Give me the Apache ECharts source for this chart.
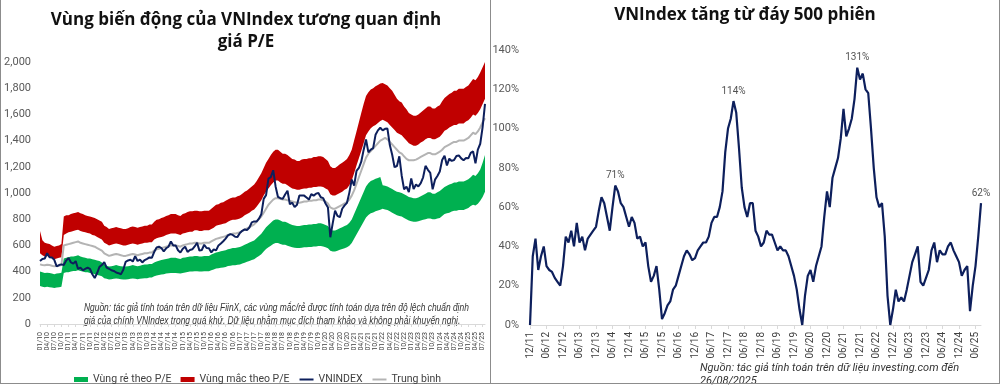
<!DOCTYPE html>
<html><head><meta charset="utf-8">
<script src="https://cdn.jsdelivr.net/npm/echarts@6/dist/echarts.min.js"></script>
<style>html,body{margin:0;padding:0;background:#fff}#c{width:1000px;height:385px}</style>
</head><body><div id="c"></div>
<script>
// ---------- LEFT CHART DATA (monthly, 01/2010 .. 08/2025) ----------
const vnindex = [
481,497,500,540,510,507,490,440,450,455,450,484,
505,470,461,480,420,430,410,420,430,420,380,351,
389,436,450,473,430,422,410,405,393,388,380,414,
475,485,490,477,518,481,492,470,488,497,508,505,
550,585,590,580,555,578,590,630,600,600,563,545,
575,590,550,565,570,592,620,560,565,605,580,579,
546,570,562,600,615,632,652,677,686,680,666,665,
695,711,722,717,737,776,783,782,804,837,955,984,
1110,1121,1174,1050,970,960,955,989,1017,914,926,892,
910,980,980,980,965,950,992,980,995,1000,968,961,
920,890,662,768,865,825,815,880,905,925,1003,1103,
1056,1168,1191,1239,1329,1408,1310,1331,1342,1444,1478,1498,
1478,1490,1492,1366,1292,1197,1206,1280,1132,1028,1049,1007,
1111,1030,1065,1050,1075,1120,1207,1177,1154,1028,1102,1130,
1164,1252,1284,1210,1262,1245,1252,1283,1287,1264,1250,1267,
1265,1306,1317,1226,1332,1376,1503,1680];
const trungBinh = [
455,450,448,452,450,445,440,442,445,450,600,605,
610,615,620,625,630,620,615,610,605,600,595,590,
580,570,560,540,530,520,525,530,535,530,525,520,
520,525,530,535,530,525,530,535,540,540,545,545,
560,570,575,580,585,590,595,600,600,600,595,590,
600,605,610,615,615,620,620,615,615,620,620,620,
630,640,650,655,660,665,670,680,685,690,690,695,
700,710,720,730,740,750,760,780,800,820,850,880,
910,930,950,960,960,955,950,950,945,940,935,930,
925,925,930,935,935,940,940,945,945,950,950,945,
935,920,890,880,880,890,900,910,920,930,950,980,
1020,1070,1120,1170,1220,1270,1300,1320,1340,1360,1380,1400,
1410,1420,1410,1390,1370,1350,1330,1310,1300,1280,1260,1250,
1250,1250,1255,1265,1275,1285,1295,1305,1305,1295,1295,1305,
1315,1330,1350,1360,1370,1380,1390,1390,1400,1400,1400,1410,
1420,1440,1460,1450,1470,1500,1540,1570];
const macLow = [
540,525,515,520,510,505,495,500,505,510,680,690,
700,705,710,715,720,710,705,700,695,690,680,675,
665,655,645,620,610,600,605,610,615,610,605,600,
600,605,610,615,610,605,610,615,620,620,625,625,
645,655,660,665,670,680,685,690,690,690,685,680,
690,695,700,705,705,715,715,710,710,715,715,715,
725,735,750,755,760,765,770,780,790,795,795,800,
805,815,830,840,850,865,875,895,920,945,980,1010,
1035,1060,1080,1095,1095,1080,1070,1070,1060,1045,1035,1030,
1025,1025,1030,1035,1035,1040,1040,1045,1045,1050,1050,1045,
1035,1025,990,980,980,990,1000,1010,1025,1035,1060,1095,
1150,1210,1265,1320,1380,1440,1470,1495,1510,1520,1535,1550,
1560,1550,1540,1520,1500,1480,1460,1450,1440,1420,1400,1380,
1370,1360,1360,1370,1385,1395,1410,1420,1420,1410,1410,1420,
1430,1450,1475,1485,1500,1510,1520,1520,1530,1530,1530,1545,
1555,1575,1600,1590,1610,1640,1680,1720];
const macHigh = [
710,640,620,615,610,600,590,595,600,610,820,830,
830,840,845,850,855,845,840,830,825,820,815,810,
800,790,780,750,740,725,730,735,740,735,730,725,
725,730,740,745,740,735,740,745,750,750,760,760,
780,795,800,810,815,825,830,840,840,840,830,825,
840,845,855,860,860,865,865,860,860,865,865,865,
880,895,910,915,925,930,940,950,960,965,965,975,
980,995,1010,1020,1035,1050,1065,1090,1120,1150,1190,1230,
1260,1290,1315,1330,1330,1315,1300,1300,1290,1275,1260,1255,
1245,1245,1255,1260,1260,1265,1265,1275,1275,1280,1280,1275,
1260,1245,1205,1190,1190,1205,1220,1230,1245,1260,1290,1330,
1400,1470,1540,1610,1680,1740,1770,1790,1800,1815,1825,1835,
1840,1830,1820,1800,1780,1750,1720,1700,1690,1660,1640,1610,
1600,1590,1590,1600,1615,1630,1645,1660,1660,1645,1645,1660,
1670,1700,1725,1740,1755,1765,1780,1780,1795,1795,1795,1810,
1820,1845,1870,1860,1885,1920,1960,2000];
const reLow = [
290,285,280,285,280,278,275,278,280,285,390,395,
395,400,405,405,410,405,400,395,395,390,385,380,
375,370,365,350,345,340,342,345,348,345,342,340,
340,342,345,348,345,342,345,348,350,350,355,355,
365,370,375,378,380,385,388,390,390,390,388,385,
390,393,397,400,400,403,403,400,400,403,403,403,
410,416,423,426,430,432,436,442,445,449,449,452,
455,462,468,475,481,488,494,507,520,533,553,572,
585,598,611,618,618,611,605,605,598,592,585,582,
580,580,582,585,585,588,588,592,592,595,595,592,
585,578,559,553,553,559,566,572,578,585,598,618,
650,683,715,748,780,813,832,845,852,860,866,872,
880,875,870,860,850,840,830,825,820,810,800,790,
785,780,780,785,790,795,800,805,805,800,800,805,
810,825,840,845,850,858,865,865,870,870,870,878,
885,900,910,905,918,940,970,1010];
const reHigh = [
400,395,390,392,390,385,380,385,388,392,500,505,
510,515,515,520,525,515,510,505,500,500,495,490,
485,480,470,455,445,438,440,445,450,445,440,438,
438,440,445,450,445,440,445,450,455,455,458,458,
470,478,483,488,492,496,500,505,505,505,500,496,
505,508,512,516,516,520,520,516,516,520,520,520,
530,538,546,550,555,560,563,570,575,580,580,584,
588,596,605,613,622,630,638,655,672,689,714,739,
756,773,790,798,798,790,781,781,773,764,756,752,
748,748,752,756,756,760,760,764,764,769,769,764,
756,748,722,714,714,722,731,739,748,756,773,798,
840,882,924,966,1008,1050,1075,1092,1100,1108,1115,1122,
1060,1055,1050,1040,1030,1020,1010,1005,1000,990,980,970,
965,960,960,965,975,985,995,1005,1005,995,995,1005,
1015,1030,1045,1055,1065,1070,1080,1080,1088,1088,1088,1095,
1105,1120,1140,1130,1150,1180,1230,1290];
const leftYTicks = [0,200,400,600,800,1000,1200,1400,1600,1800,2000];

// ---------- RIGHT CHART DATA (monthly, 12/2011 .. 08/2025), % ----------
const tangTuDay = [
0,
35,44,28,35,40,30,28,27,24,22,20,30,
45,42,48,40,52,42,45,38,44,46,48,50,
58,65,62,55,48,60,71,68,62,60,55,50,
55,52,44,45,40,42,30,22,25,30,18,3,
6,10,12,18,20,25,30,35,38,36,33,34,
38,40,42,42,45,52,55,55,60,68,88,100,
105,114,108,90,70,60,55,62,62,48,45,40,
42,48,46,46,42,38,40,38,38,35,30,25,
18,8,0,15,25,28,22,30,35,40,55,68,
60,75,80,85,95,110,96,100,105,115,131,125,
128,120,118,100,80,65,60,62,45,15,0,8,
18,12,14,12,18,25,32,36,40,22,20,24,
28,38,42,32,38,36,36,40,42,38,35,32,
25,28,30,7,20,30,45,62];
const peakMonths = ['07/14','02/18','11/21','08/25'];

// ---------- helpers ----------
function monthLabels(y, m, n){
  const out=[];
  for(let i=0;i<n;i++){
    out.push(String(m).padStart(2,'0')+'/'+String(y%100).padStart(2,'0'));
    m++; if(m>12){m=1;y++;}
  }
  return out;
}
const leftCats = monthLabels(2010,1,vnindex.length);
const rightCats = monthLabels(2011,12,tangTuDay.length);
const diff = (hi, lo) => hi.map((v,i)=>v-lo[i]);
const peakData = peakMonths.map(m => [m, tangTuDay[rightCats.indexOf(m)]]);

const GREEN='#00b050', RED='#c00000', NAVY='#0d1f5c', GRAY='#b4b4b4';
const FONT='Roboto';
const TFONT='"Open Sans"';

const chart = echarts.init(document.getElementById('c'), null, {renderer:'canvas'});
const option = {
  animation:false,
  textStyle:{fontFamily:FONT},
  grid:[
    {left:40, top:62, width:445, height:262},
    {left:530, top:50, width:451, height:275}
  ],
  xAxis:[
    {type:'category', gridIndex:0, data:leftCats, boundaryGap:false,
     axisLine:{lineStyle:{color:'#d9d9d9'}},
     axisTick:{interval:(i)=>i%3===0, length:3, lineStyle:{color:'#d9d9d9'}},
     axisLabel:{interval:(i)=>i%3===0, rotate:90, fontSize:7, lineHeight:6, hideOverlap:false,
       color:'#404040', margin:8}},
    {type:'category', gridIndex:1, data:rightCats, boundaryGap:false,
     axisLine:{lineStyle:{color:'#d9d9d9'}},
     axisTick:{interval:(i)=>i%6===0, length:4, lineStyle:{color:'#d9d9d9'}},
     axisLabel:{interval:(i)=>i%6===0, rotate:90, fontSize:10, hideOverlap:false, color:'#404040', margin:7}}
  ],
  yAxis:[
    {type:'value', gridIndex:0, min:leftYTicks[0], max:leftYTicks[leftYTicks.length-1], interval:200,
     splitLine:{show:false}, axisLine:{show:false}, axisTick:{show:false},
     axisLabel:{fontSize:11, color:'#595959', margin:9, formatter:(v)=>v.toLocaleString('en-US')}},
    {type:'value', gridIndex:1, min:0, max:140, interval:20,
     splitLine:{show:false}, axisLine:{show:false}, axisTick:{show:false},
     axisLabel:{fontSize:11, color:'#595959', margin:11, formatter:'{value}%'}}
  ],
  legend:{
    left:69, top:369, itemWidth:14, itemHeight:5, itemGap:9,
    textStyle:{fontSize:10.5, color:'#404040', fontFamily:FONT},
    data:[
      {name:'Vùng rẻ theo P/E', icon:'rect'},
      {name:'Vùng mắc theo P/E', icon:'rect'},
      {name:'VNINDEX', itemStyle:{opacity:0}},
      {name:'Trung bình', itemStyle:{opacity:0}}
    ]
  },
  series:[
    {name:'reBase', type:'line', xAxisIndex:0, yAxisIndex:0, stack:'re', data:reLow,
     symbol:'none', lineStyle:{width:0}, silent:true},
    {name:'Vùng rẻ theo P/E', type:'line', xAxisIndex:0, yAxisIndex:0, stack:'re', data:diff(reHigh,reLow),
     symbol:'none', lineStyle:{width:0}, itemStyle:{color:GREEN}, areaStyle:{color:GREEN, opacity:1}},
    {name:'macBase', type:'line', xAxisIndex:0, yAxisIndex:0, stack:'mac', data:macLow,
     symbol:'none', lineStyle:{width:0}, silent:true},
    {name:'Vùng mắc theo P/E', type:'line', xAxisIndex:0, yAxisIndex:0, stack:'mac', data:diff(macHigh,macLow),
     symbol:'none', lineStyle:{width:0}, itemStyle:{color:RED}, areaStyle:{color:RED, opacity:1}},
    {name:'Trung bình', type:'line', xAxisIndex:0, yAxisIndex:0, data:trungBinh,
     symbol:'none', itemStyle:{color:GRAY}, lineStyle:{color:GRAY, width:2}},
    {name:'VNINDEX', type:'line', xAxisIndex:0, yAxisIndex:0, data:vnindex,
     symbol:'none', itemStyle:{color:NAVY}, lineStyle:{color:NAVY, width:2}},
    {name:'tang', type:'line', xAxisIndex:1, yAxisIndex:1, data:tangTuDay,
     symbol:'none', itemStyle:{color:NAVY}, lineStyle:{color:NAVY, width:2.2}},
    {name:'peaks', type:'scatter', xAxisIndex:1, yAxisIndex:1, data:peakData,
     symbolSize:0, silent:true,
     label:{show:true, position:'top', distance:5, fontSize:10, color:'#262626',
       formatter:(p)=>p.value[1]+'%'}}
  ],
  graphic:[
    {type:'text', style:{x:246, y:9, text:'Vùng biến động của VNIndex tương quan định\ngiá P/E',
      textAlign:'center', font:'bold 17px '+TFONT, fill:'#111', lineHeight:22}},
    {type:'text', style:{x:745, y:7, text:'VNIndex tăng từ đáy 500 phiên',
      textAlign:'center', font:'bold 17px '+TFONT, fill:'#111'}},
    {type:'text', x:84, y:302, scaleX:0.84, style:{x:0, y:0, text:'Nguồn: tác giả tính toán trên dữ liệu FiinX, các vùng mắc/rẻ được tính toán dựa trên độ lệch chuẩn định\ngiá của chính VNIndex trong quá khứ. Dữ liệu nhằm mục đích tham khảo và không phải khuyến nghị.',
      font:'italic 10px "Liberation Sans"', fill:'#333', lineHeight:12.5}},
    {type:'text', style:{x:700, y:362, text:'Nguồn: tác giả tính toán trên dữ liệu investing.com đến\n26/08/2025',
      font:'italic 11px '+FONT, fill:'#333', lineHeight:12.5}},
    {type:'line', shape:{x1:0.5,y1:0,x2:0.5,y2:383.5}, style:{stroke:'#8c8c8c', lineWidth:1}},
    {type:'line', shape:{x1:0,y1:383.5,x2:1000,y2:383.5}, style:{stroke:'#8c8c8c', lineWidth:1}},
    {type:'line', shape:{x1:490.5,y1:0,x2:490.5,y2:384}, style:{stroke:'#8c8c8c', lineWidth:1}},
    {type:'line', shape:{x1:999.5,y1:0,x2:999.5,y2:384}, style:{stroke:'#8c8c8c', lineWidth:1}}
  ]
};
chart.setOption(option);
</script>
</body></html>
